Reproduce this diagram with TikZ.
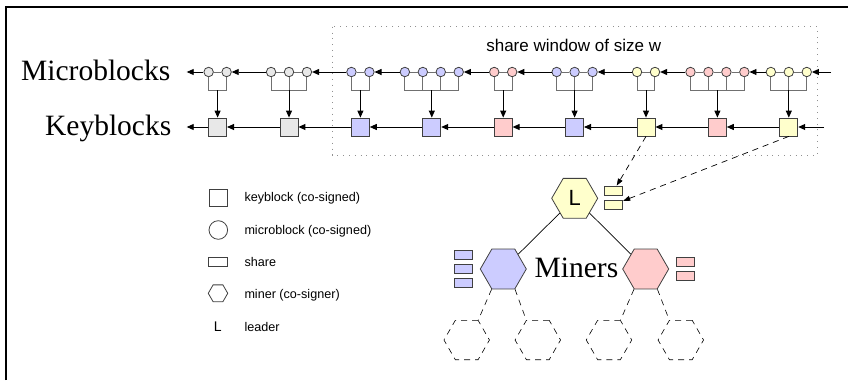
\documentclass[tikz,border=0pt]{standalone}
\usepackage{fontspec}
\setmainfont{Liberation Serif}
\setsansfont{Liberation Sans}
\usetikzlibrary{shapes.geometric,arrows.meta}
\definecolor{cgray}{HTML}{E8E8E8}
\definecolor{cblue}{HTML}{CCCCFF}
\definecolor{cpink}{HTML}{FFCCCC}
\definecolor{cyel}{HTML}{FFFFCC}
\definecolor{cedge}{HTML}{404040}
\definecolor{cline}{HTML}{707070}
\definecolor{cdot}{HTML}{909090}
\begin{document}
\begin{tikzpicture}[x=1pt,y=-1pt,
  mb/.style={circle,draw=cedge,line width=0.8pt,minimum size=9.5pt,inner sep=0pt},
  kb/.style={rectangle,draw=cedge,line width=0.8pt,minimum width=18pt,minimum height=18pt,inner sep=0pt},
  sh/.style={rectangle,draw=cedge,line width=0.8pt,minimum width=18pt,minimum height=9pt,inner sep=0pt},
  hex/.style={regular polygon,regular polygon sides=6,draw=cedge,line width=0.8pt,minimum size=46pt,inner sep=0pt},
  dhex/.style={regular polygon,regular polygon sides=6,draw=black,line width=0.6pt,minimum size=45.5pt,inner sep=0pt,dash pattern=on 6pt off 5pt},
  arr/.style={draw=black,line width=0.9pt,-{Triangle[length=7pt,width=6pt]}},
  darr/.style={draw=black,line width=0.7pt,dash pattern=on 6pt off 5pt,-{Triangle[length=7pt,width=5pt]}},
  grayline/.style={draw=cline,line width=1pt},
  treeline/.style={draw=black,line width=0.7pt},
  dline/.style={draw=black,line width=0.6pt,dash pattern=on 6pt off 5pt},
  bigserif/.style={font=\fontsize{29.5}{31}\selectfont},
  legtext/.style={font=\sffamily\fontsize{12.6}{15}\selectfont,anchor=base west,inner sep=0pt},
  legshape/.style={draw=cedge,line width=0.8pt,fill=white,inner sep=0pt}]
\useasboundingbox (0,0) rectangle (848,380);
% frame
\draw[line width=2pt] (6,380) -- (6,7) -- (848,7);
% share window
\draw[draw=cdot,line width=1pt,dash pattern=on 1pt off 4.8pt] (332.3,26.7) rectangle (817.3,155);
\node[font=\sffamily\fontsize{17}{19}\selectfont,anchor=base,inner sep=0pt] (win) at (573.7,51.7) {share window of size w};
% labels
\node[bigserif,anchor=base east,inner sep=0pt] (lm) at (170.5,80) {Microblocks};
\node[bigserif,anchor=base east,inner sep=0pt] (lk) at (171.5,135) {Keyblocks};
% groups
\foreach \i/\n/\col in {1/2/cgray,2/3/cgray,3/2/cblue,4/4/cblue,5/2/cpink,6/3/cblue,7/2/cyel,8/4/cpink,9/3/cyel}{
  \pgfmathsetmacro\kx{217.6+71.4*(\i-1)}
  \node[kb,fill=\col] (k\i) at (\kx,127) {};
  \coordinate (b\i) at (\kx,90);
  \foreach \j in {1,...,\n}{
    \pgfmathsetmacro\mx{\kx+(\j-(\n+1)/2)*17.95}
    \node[mb,fill=\col] (m\i-\j) at (\mx,72) {};
  }
  \foreach \j in {2,...,\n}{
    \pgfmathtruncatemacro\jp{\j-1}
    \draw[grayline] (m\i-\jp) -- (m\i-\j);
  }
  \draw[grayline] (m\i-1.south) -- (m\i-1.south |- b\i) -- (m\i-\n.south |- b\i) -- (m\i-\n.south);
  \ifnum\n>2
    \pgfmathtruncatemacro\nm{\n-1}
    \foreach \j in {2,...,\nm}{
      \draw[grayline] (m\i-\j.south) -- (m\i-\j.south |- b\i);
    }
  \fi
  \draw[arr] (b\i) -- (k\i.north);
}
\foreach \i/\p/\q in {2/1/2,3/2/3,4/3/2,5/4/4,6/5/2,7/6/3,8/7/2,9/8/4}{
  \draw[arr] (m\i-1) -- (m\p-\q);
  \draw[arr] (k\i) -- (k\p);
}
\coordinate (mend) at (831,72);
\coordinate (kend) at (824,127);
\coordinate (mstart) at (186.7,72);
\coordinate (kstart) at (186.7,127);
\draw[arr] (mend) -- (m9-3);
\draw[arr] (kend) -- (k9);
\draw[arr] (m1-1) -- (mstart);
\draw[arr] (k1) -- (kstart);
% legend
\node[legshape,rectangle,minimum width=18pt,minimum height=17pt] (gk) at (218.3,197.5) {};
\node[legshape,circle,minimum size=18.6pt] (gm) at (218.3,230) {};
\node[legshape,rectangle,minimum width=18.7pt,minimum height=9.3pt] (gs) at (218,262) {};
\node[legshape,regular polygon,regular polygon sides=6,minimum size=19.5pt] (gh) at (218,293.3) {};
\node[font=\sffamily\fontsize{14}{16}\selectfont,anchor=base,inner sep=0pt] (gl) at (217.8,331.7) {L};
\node[legtext] (tk) at (244.3,201.8) {keyblock (co-signed)};
\node[legtext] (tm) at (244.3,234.3) {microblock (co-signed)};
\node[legtext] (ts) at (244.3,266.9) {share};
\node[legtext] (th) at (244.3,298.2) {miner (co-signer)};
\node[legtext] (tl) at (244.3,331.7) {leader};
% tree
\node[hex,fill=cyel,font=\sffamily\fontsize{22}{24}\selectfont] (L) at (574.7,198.3) {L};
\node[hex,fill=cblue] (B) at (503.3,269) {};
\node[hex,fill=cpink] (P) at (645.7,269) {};
\draw[treeline] (L) -- (B);
\draw[treeline] (L) -- (P);
\node[anchor=base west,inner sep=0pt,bigserif] (miners) at (534.5,277.3) {Miners};
\node[sh,fill=cyel] (s1) at (613.8,190.5) {};
\node[sh,fill=cyel] (s2) at (613.8,204.5) {};
\node[sh,fill=cblue] (sb1) at (463.8,254.8) {};
\node[sh,fill=cblue] (sb2) at (463.8,269) {};
\node[sh,fill=cblue] (sb3) at (463.8,283.2) {};
\node[sh,fill=cpink] (sp1) at (685,262) {};
\node[sh,fill=cpink] (sp2) at (685,276) {};
\node[dhex] (D1) at (466.7,340) {};
\node[dhex] (D2) at (537.8,340) {};
\node[dhex] (D3) at (609,340) {};
\node[dhex] (D4) at (680.8,340) {};
\draw[dline] (B.240) -- (D1.60);
\draw[dline] (B.300) -- (D2.120);
\draw[dline] (P.240) -- (D3.60);
\draw[dline] (P.300) -- (D4.120);
\draw[darr] (k7.south) -- (s1);
\draw[darr] (k9.south) -- (s2);
\end{tikzpicture}
\end{document}
